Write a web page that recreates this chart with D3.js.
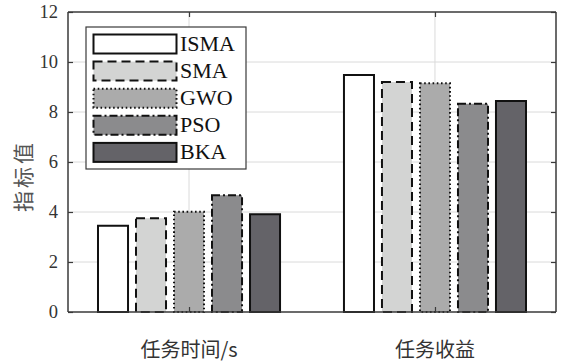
<!DOCTYPE html>
<html>
<head>
<meta charset="utf-8">
<script src="https://cdn.jsdelivr.net/npm/d3@7"></script>
<style>
  html, body { margin: 0; padding: 0; background: #fff; }
  svg { display: block; }
</style>
</head>
<body>
<svg id="chart" width="561" height="362"></svg>
<script>
// Categories on the x axis and the algorithms compared in each group
const categories = ["任务时间/s", "任务收益"];
const algorithms = ["ISMA", "SMA", "GWO", "PSO", "BKA"];

// Indicator values per algorithm (same order as algorithms)
const taskTime = [3.45, 3.75, 4.01, 4.67, 3.91];
const taskRevenue = [9.48, 9.20, 9.15, 8.33, 8.44];

const yTicks = [0, 2, 4, 6, 8, 10, 12];
const yLabel = "指标值";

// Visual style per algorithm
const fills = ["#ffffff", "#d3d4d3", "#ababab", "#8b8b8d", "#646368"];
const dashes = [null, "9,5", "1.6,2.6", "8,3,2,3", null];

const values = [taskTime, taskRevenue];

const svg = d3.select("#chart");
const plotL = 68, plotR = 556, plotT = 12, plotB = 312;

const x = d3.scalePoint().domain(categories).range([plotL, plotR]).padding(0.492);
const xInner = d3.scaleBand().domain(algorithms).range([-99, 99]).padding(0.21);
const y = d3.scaleLinear().domain([0, 12]).range([plotB, plotT]);

const axisColor = "#3a3a3a";
const textColor = "#333";

// Grid lines
const grid = svg.append("g");
grid.selectAll("line.h").data(yTicks.filter(t => t > 0 && t < 12)).join("line")
  .attr("class", "h")
  .attr("x1", plotL).attr("x2", plotR)
  .attr("y1", d => y(d)).attr("y2", d => y(d))
  .attr("stroke", "#dadada").attr("stroke-width", 1);
grid.selectAll("line.v").data(categories).join("line")
  .attr("class", "v")
  .attr("x1", d => x(d)).attr("x2", d => x(d))
  .attr("y1", plotT).attr("y2", plotB)
  .attr("stroke", "#dadada").attr("stroke-width", 1);

// Bars
const groups = svg.append("g").selectAll("g").data(categories).join("g")
  .attr("transform", d => `translate(${x(d)},0)`);
groups.selectAll("rect")
  .data((c, ci) => algorithms.map((a, ai) => ({ a, ai, v: values[ci][ai] })))
  .join("rect")
  .attr("x", d => xInner(d.a))
  .attr("width", xInner.bandwidth())
  .attr("y", d => y(d.v))
  .attr("height", d => y(0) - y(d.v))
  .attr("fill", d => fills[d.ai])
  .attr("stroke", "#111")
  .attr("stroke-width", 2)
  .attr("stroke-dasharray", d => dashes[d.ai]);

// Axes (inside ticks, box on)
const axG = svg.append("g");
const yAxisL = d3.axisLeft(y).tickValues(yTicks).tickSize(-5).tickPadding(10).tickFormat(d3.format("d"));
const gl = axG.append("g").attr("transform", `translate(${plotL},0)`).call(yAxisL);
const yAxisR = d3.axisRight(y).tickValues(yTicks).tickSize(-5).tickFormat("");
const gr = axG.append("g").attr("transform", `translate(${plotR},0)`).call(yAxisR);
const xAxisB = d3.axisBottom(x).tickSize(-5).tickFormat("");
const gb = axG.append("g").attr("transform", `translate(0,${plotB})`).call(xAxisB);
const xAxisT = d3.axisTop(x).tickSize(-5).tickFormat("");
const gt = axG.append("g").attr("transform", `translate(0,${plotT})`).call(xAxisT);

[gl, gr, gb, gt].forEach(g => {
  g.select(".domain").attr("stroke", axisColor).attr("stroke-width", 1.5);
  g.selectAll(".tick line").attr("stroke", axisColor).attr("stroke-width", 1.2);
});
gl.select(".domain").attr("d", `M0,${plotT}V${plotB}`);
gr.select(".domain").attr("d", `M0,${plotT}V${plotB}`);
gb.select(".domain").attr("d", `M${plotL},0H${plotR}`);
gt.select(".domain").attr("d", `M${plotL},0H${plotR}`);

gl.selectAll(".tick text")
  .attr("font-family", "'Liberation Serif', 'Times New Roman', serif")
  .attr("font-size", 18.5)
  .attr("fill", textColor);

// Category labels
svg.append("g").selectAll("text").data(categories).join("text")
  .attr("x", d => x(d))
  .attr("y", 357)
  .attr("text-anchor", "middle")
  .attr("font-family", "'Noto Sans CJK SC', sans-serif")
  .attr("font-size", 20)
  .attr("fill", textColor)
  .text(d => d);

// Y axis title
svg.append("text")
  .attr("transform", "translate(31,176) rotate(-90)")
  .attr("text-anchor", "middle")
  .attr("font-family", "'Noto Sans CJK SC', sans-serif")
  .attr("font-size", 21)
  .attr("letter-spacing", 3)
  .attr("fill", "#555")
  .text(yLabel);

// Legend
const legend = svg.append("g");
legend.append("rect")
  .attr("x", 86).attr("y", 27).attr("width", 160).attr("height", 142)
  .attr("fill", "#fff").attr("stroke", axisColor).attr("stroke-width", 1.2);
const items = legend.selectAll("g.item").data(algorithms).join("g")
  .attr("class", "item")
  .attr("transform", (d, i) => `translate(0,${34.5 + i * 27.1})`);
items.append("rect")
  .attr("x", 93.5).attr("y", 0).attr("width", 83).attr("height", 19)
  .attr("fill", (d, i) => fills[i])
  .attr("stroke", "#111").attr("stroke-width", 2)
  .attr("stroke-dasharray", (d, i) => dashes[i]);
items.append("text")
  .attr("x", 180).attr("y", 16.5)
  .attr("font-family", "'Liberation Serif', 'Times New Roman', serif")
  .attr("font-size", 22)
  .attr("fill", "#111")
  .text(d => d);
</script>
</body>
</html>
